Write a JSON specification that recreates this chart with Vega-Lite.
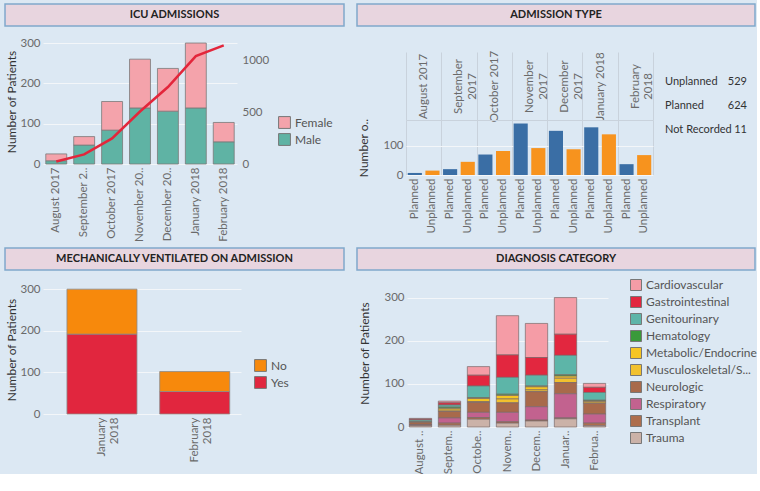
{
  "$schema": "https://vega.github.io/schema/vega-lite/v6.json",
  "background": "#dce8f3",
  "padding": {"left": 4, "top": 3, "right": 0, "bottom": 0},
  "config": {
    "font": "Lato",
    "view": {"stroke": null},
    "axis": {"labelColor": "#6a6a6a", "labelFontSize": 11.5, "titleColor": "#333333", "titleFontSize": 12, "titleFontWeight": "normal", "domain": false, "ticks": false, "gridColor": "#f3f6f9", "gridOpacity": 1, "labelPadding": 3},
    "legend": {"labelColor": "#555555", "labelFontSize": 12, "symbolType": "square", "symbolStrokeColor": "#777777", "symbolStrokeWidth": 1, "symbolOpacity": 1}
  },
  "datasets": {
    "icu": [
      {"month": "August 2017", "sex": "Male", "patients": 8},
      {"month": "August 2017", "sex": "Female", "patients": 17},
      {"month": "September 2017", "sex": "Male", "patients": 47},
      {"month": "September 2017", "sex": "Female", "patients": 21},
      {"month": "October 2017", "sex": "Male", "patients": 84},
      {"month": "October 2017", "sex": "Female", "patients": 71},
      {"month": "November 2017", "sex": "Male", "patients": 139},
      {"month": "November 2017", "sex": "Female", "patients": 121},
      {"month": "December 2017", "sex": "Male", "patients": 131},
      {"month": "December 2017", "sex": "Female", "patients": 106},
      {"month": "January 2018", "sex": "Male", "patients": 139},
      {"month": "January 2018", "sex": "Female", "patients": 161},
      {"month": "February 2018", "sex": "Male", "patients": 55},
      {"month": "February 2018", "sex": "Female", "patients": 48}
    ],
    "icucum": [
      {"month": "August 2017", "cumulative": 25},
      {"month": "September 2017", "cumulative": 93},
      {"month": "October 2017", "cumulative": 248},
      {"month": "November 2017", "cumulative": 508},
      {"month": "December 2017", "cumulative": 745},
      {"month": "January 2018", "cumulative": 1045},
      {"month": "February 2018", "cumulative": 1148}
    ],
    "adm": [
      {"month": "August 2017", "type": "Planned", "key": "August 2017 | Planned", "patients": 7},
      {"month": "August 2017", "type": "Unplanned", "key": "August 2017 | Unplanned", "patients": 15},
      {"month": "September 2017", "type": "Planned", "key": "September 2017 | Planned", "patients": 20},
      {"month": "September 2017", "type": "Unplanned", "key": "September 2017 | Unplanned", "patients": 45},
      {"month": "October 2017", "type": "Planned", "key": "October 2017 | Planned", "patients": 70},
      {"month": "October 2017", "type": "Unplanned", "key": "October 2017 | Unplanned", "patients": 82},
      {"month": "November 2017", "type": "Planned", "key": "November 2017 | Planned", "patients": 176},
      {"month": "November 2017", "type": "Unplanned", "key": "November 2017 | Unplanned", "patients": 92},
      {"month": "December 2017", "type": "Planned", "key": "December 2017 | Planned", "patients": 151},
      {"month": "December 2017", "type": "Unplanned", "key": "December 2017 | Unplanned", "patients": 88},
      {"month": "January 2018", "type": "Planned", "key": "January 2018 | Planned", "patients": 163},
      {"month": "January 2018", "type": "Unplanned", "key": "January 2018 | Unplanned", "patients": 139},
      {"month": "February 2018", "type": "Planned", "key": "February 2018 | Planned", "patients": 37},
      {"month": "February 2018", "type": "Unplanned", "key": "February 2018 | Unplanned", "patients": 68}
    ],
    "totals": [
      {"category": "Unplanned", "total": 529},
      {"category": "Planned", "total": 624},
      {"category": "Not Recorded", "total": 11}
    ],
    "vent": [
      {"month": "January 2018", "ventilated": "Yes", "patients": 192},
      {"month": "January 2018", "ventilated": "No", "patients": 108},
      {"month": "February 2018", "ventilated": "Yes", "patients": 54},
      {"month": "February 2018", "ventilated": "No", "patients": 48}
    ],
    "diag": [
      {"month": "August 2017", "category": "Cardiovascular", "patients": 2},
      {"month": "August 2017", "category": "Gastrointestinal", "patients": 2},
      {"month": "August 2017", "category": "Genitourinary", "patients": 4},
      {"month": "August 2017", "category": "Hematology", "patients": 1},
      {"month": "August 2017", "category": "Neurologic", "patients": 5},
      {"month": "August 2017", "category": "Respiratory", "patients": 1},
      {"month": "August 2017", "category": "Transplant", "patients": 2},
      {"month": "August 2017", "category": "Trauma", "patients": 3},
      {"month": "September 2017", "category": "Cardiovascular", "patients": 4},
      {"month": "September 2017", "category": "Gastrointestinal", "patients": 5},
      {"month": "September 2017", "category": "Genitourinary", "patients": 5},
      {"month": "September 2017", "category": "Hematology", "patients": 3},
      {"month": "September 2017", "category": "Metabolic/Endocrine", "patients": 4},
      {"month": "September 2017", "category": "Musculoskeletal/Skin", "patients": 3},
      {"month": "September 2017", "category": "Neurologic", "patients": 15},
      {"month": "September 2017", "category": "Respiratory", "patients": 12},
      {"month": "September 2017", "category": "Transplant", "patients": 5},
      {"month": "September 2017", "category": "Trauma", "patients": 4},
      {"month": "October 2017", "category": "Cardiovascular", "patients": 20},
      {"month": "October 2017", "category": "Gastrointestinal", "patients": 25},
      {"month": "October 2017", "category": "Genitourinary", "patients": 27},
      {"month": "October 2017", "category": "Hematology", "patients": 2},
      {"month": "October 2017", "category": "Metabolic/Endocrine", "patients": 7},
      {"month": "October 2017", "category": "Musculoskeletal/Skin", "patients": 2},
      {"month": "October 2017", "category": "Neurologic", "patients": 23},
      {"month": "October 2017", "category": "Respiratory", "patients": 12},
      {"month": "October 2017", "category": "Transplant", "patients": 4},
      {"month": "October 2017", "category": "Trauma", "patients": 18},
      {"month": "November 2017", "category": "Cardiovascular", "patients": 91},
      {"month": "November 2017", "category": "Gastrointestinal", "patients": 52},
      {"month": "November 2017", "category": "Genitourinary", "patients": 39},
      {"month": "November 2017", "category": "Hematology", "patients": 3},
      {"month": "November 2017", "category": "Metabolic/Endocrine", "patients": 8},
      {"month": "November 2017", "category": "Musculoskeletal/Skin", "patients": 9},
      {"month": "November 2017", "category": "Neurologic", "patients": 22},
      {"month": "November 2017", "category": "Respiratory", "patients": 22},
      {"month": "November 2017", "category": "Transplant", "patients": 3},
      {"month": "November 2017", "category": "Trauma", "patients": 9},
      {"month": "December 2017", "category": "Cardiovascular", "patients": 79},
      {"month": "December 2017", "category": "Gastrointestinal", "patients": 41},
      {"month": "December 2017", "category": "Genitourinary", "patients": 25},
      {"month": "December 2017", "category": "Hematology", "patients": 2},
      {"month": "December 2017", "category": "Metabolic/Endocrine", "patients": 7},
      {"month": "December 2017", "category": "Musculoskeletal/Skin", "patients": 4},
      {"month": "December 2017", "category": "Neurologic", "patients": 35},
      {"month": "December 2017", "category": "Respiratory", "patients": 31},
      {"month": "December 2017", "category": "Transplant", "patients": 2},
      {"month": "December 2017", "category": "Trauma", "patients": 14},
      {"month": "January 2018", "category": "Cardiovascular", "patients": 85},
      {"month": "January 2018", "category": "Gastrointestinal", "patients": 49},
      {"month": "January 2018", "category": "Genitourinary", "patients": 45},
      {"month": "January 2018", "category": "Hematology", "patients": 3},
      {"month": "January 2018", "category": "Metabolic/Endocrine", "patients": 5},
      {"month": "January 2018", "category": "Musculoskeletal/Skin", "patients": 10},
      {"month": "January 2018", "category": "Neurologic", "patients": 26},
      {"month": "January 2018", "category": "Respiratory", "patients": 56},
      {"month": "January 2018", "category": "Transplant", "patients": 2},
      {"month": "January 2018", "category": "Trauma", "patients": 19},
      {"month": "February 2018", "category": "Cardiovascular", "patients": 9},
      {"month": "February 2018", "category": "Gastrointestinal", "patients": 12},
      {"month": "February 2018", "category": "Genitourinary", "patients": 18},
      {"month": "February 2018", "category": "Hematology", "patients": 2},
      {"month": "February 2018", "category": "Metabolic/Endocrine", "patients": 2},
      {"month": "February 2018", "category": "Musculoskeletal/Skin", "patients": 3},
      {"month": "February 2018", "category": "Neurologic", "patients": 25},
      {"month": "February 2018", "category": "Respiratory", "patients": 21},
      {"month": "February 2018", "category": "Transplant", "patients": 6},
      {"month": "February 2018", "category": "Trauma", "patients": 3}
    ]
  },
  "spacing": 5,
  "resolve": {"scale": {"color": "independent"}, "legend": {"color": "independent"}},
  "vconcat": [
    {
      "spacing": 11,
      "resolve": {"scale": {"color": "independent"}, "legend": {"color": "independent"}},
      "hconcat": [
        {
          "spacing": 10,
          "vconcat": [
            {
              "width": 301, "height": 22,
              "data": {"values": [{"title": "ICU ADMISSIONS"}]},
              "layer": [
                {"mark": {"type": "rect", "fill": "#e8d5df", "stroke": "#80a8cc", "strokeWidth": 1.5},
                 "encoding": {"x": {"datum": -0.1262, "type": "quantitative", "scale": {"domain": [0, 1], "nice": false, "zero": false}, "axis": null}, "x2": {"datum": 1}}},
                {"mark": {"type": "text", "fontWeight": "bold", "fontSize": 11, "color": "#222222"},
                 "encoding": {"x": {"datum": 0.4369, "type": "quantitative"}, "text": {"field": "title", "type": "nominal"}}}
              ]
            },
            {
              "width": 194, "height": 125,
              "layer": [
                {
                  "data": {"name": "icu"},
                  "mark": {"type": "bar", "stroke": "#7a7a7a", "strokeWidth": 0.8},
                  "encoding": {
                    "x": {"field": "month", "type": "ordinal", "sort": ["August 2017", "September 2017", "October 2017", "November 2017", "December 2017", "January 2018", "February 2018"], "scale": {"paddingInner": 0.25, "paddingOuter": 0.1},
                      "axis": {"title": null, "labelAngle": -90, "labelExpr": "datum.label == 'September 2017' ? 'September 2..' : datum.label == 'November 2017' ? 'November 20..' : datum.label == 'December 2017' ? 'December 20..' : datum.label"}},
                    "y": {"field": "patients", "type": "quantitative", "stack": "zero", "scale": {"domain": [0, 310], "nice": false},
                      "axis": {"title": "Number of Patients", "values": [0, 100, 200, 300], "grid": true, "titlePadding": 1}},
                    "color": {"field": "sex", "type": "nominal", "scale": {"domain": ["Female", "Male"], "range": ["#f4a3ab", "#5fb3a4"]},
                      "legend": {"title": null, "orient": "none", "legendX": 235, "legendY": 112, "symbolSize": 140, "rowPadding": 0}},
                    "order": {"field": "sex", "sort": "descending"}
                  }
                },
                {
                  "data": {"name": "icucum"},
                  "mark": {"type": "line", "color": "#e3263b", "strokeWidth": 2.5},
                  "encoding": {
                    "x": {"field": "month", "type": "ordinal", "sort": ["August 2017", "September 2017", "October 2017", "November 2017", "December 2017", "January 2018", "February 2018"]},
                    "y": {"field": "cumulative", "type": "quantitative", "scale": {"domain": [0, 1210], "nice": false},
                      "axis": {"orient": "right", "title": null, "values": [0, 500, 1000], "format": "d", "grid": false, "labelPadding": 5}}
                  }
                }
              ],
              "resolve": {"scale": {"y": "independent"}}
            }
          ]
        },
        {
          "spacing": 23,
          "vconcat": [
            {
              "width": 349, "height": 22,
              "data": {"values": [{"title": "ADMISSION TYPE"}]},
              "layer": [
                {"mark": {"type": "rect", "fill": "#e8d5df", "stroke": "#80a8cc", "strokeWidth": 1.5},
                 "encoding": {"x": {"datum": -0.1404, "type": "quantitative", "scale": {"domain": [0, 1], "nice": false, "zero": false}, "axis": null}, "x2": {"datum": 1}}},
                {"mark": {"type": "text", "fontWeight": "bold", "fontSize": 11, "color": "#222222"},
                 "encoding": {"x": {"datum": 0.4298, "type": "quantitative"}, "text": {"field": "title", "type": "nominal"}}}
              ]
            },
            {
              "spacing": 10,
              "hconcat": [
                {
                  "width": 247, "height": 55,
                  "data": {"name": "adm"},
                  "layer": [
                    {
                      "mark": {"type": "point", "opacity": 0},
                      "encoding": {
                        "x": {"field": "month", "type": "ordinal", "sort": ["August 2017", "September 2017", "October 2017", "November 2017", "December 2017", "January 2018", "February 2018"], "scale": {"paddingInner": 0, "paddingOuter": 0},
                          "axis": {"orient": "top", "title": null, "labelAngle": -90, "labelAlign": "center", "labelBaseline": "middle", "labelPadding": -34,
                            "labelExpr": "length(datum.label) > 12 ? split(datum.label, ' ') : datum.label",
                            "ticks": true, "tickBand": "extent", "tickSize": 68, "tickColor": "#c9d2dc", "grid": true, "gridColor": "#c9d2dc", "domain": true, "domainColor": "#c9d2dc"}},
                        "y": {"field": "patients", "type": "quantitative", "scale": {"domain": [0, 188], "nice": false},
                          "axis": {"title": "Number o..", "values": [0, 100], "grid": true, "titlePadding": 12}}
                      }
                    },
                    {
                      "mark": {"type": "bar"},
                      "encoding": {
                        "x": {"field": "key", "type": "ordinal",
                          "sort": ["August 2017 | Planned", "August 2017 | Unplanned", "September 2017 | Planned", "September 2017 | Unplanned", "October 2017 | Planned", "October 2017 | Unplanned", "November 2017 | Planned", "November 2017 | Unplanned", "December 2017 | Planned", "December 2017 | Unplanned", "January 2018 | Planned", "January 2018 | Unplanned", "February 2018 | Planned", "February 2018 | Unplanned"],
                          "scale": {"paddingInner": 0.2, "paddingOuter": 0.1},
                          "axis": {"orient": "bottom", "title": null, "labelAngle": -90, "labelExpr": "split(datum.label, ' | ')[1]"}},
                        "y": {"field": "patients", "type": "quantitative", "scale": {"domain": [0, 188], "nice": false},
                          "axis": {"title": "Number o..", "values": [0, 100], "grid": true, "titlePadding": 12}},
                        "color": {"field": "type", "type": "nominal", "scale": {"domain": ["Planned", "Unplanned"], "range": ["#3a6ea5", "#f7931e"]}, "legend": null}
                      }
                    }
                  ],
                  "resolve": {"scale": {"x": "independent"}}
                },
                {
                  "width": 82, "height": 20,
                  "data": {"name": "totals"},
                  "encoding": {
                    "y": {"field": "category", "type": "nominal", "sort": ["Unplanned", "Planned", "Not Recorded"], "scale": {"type": "point", "padding": 0, "range": [-38, 10]}, "axis": null}
                  },
                  "layer": [
                    {
                      "mark": {"type": "text", "align": "left", "fontSize": 11, "color": "#333333"},
                      "encoding": {
                        "x": {"datum": 0, "type": "quantitative", "scale": {"domain": [0, 1]}, "axis": null},
                        "text": {"field": "category", "type": "nominal"}
                      }
                    },
                    {
                      "mark": {"type": "text", "align": "right", "fontSize": 11, "color": "#333333"},
                      "encoding": {
                        "x": {"datum": 1, "type": "quantitative", "scale": {"domain": [0, 1]}, "axis": null},
                        "text": {"field": "total", "type": "quantitative"}
                      }
                    }
                  ]
                }
              ]
            }
          ]
        }
      ]
    },
    {
      "spacing": 11,
      "resolve": {"scale": {"color": "independent"}, "legend": {"color": "independent"}},
      "hconcat": [
        {
          "spacing": 12,
          "vconcat": [
            {
              "width": 301, "height": 22,
              "data": {"values": [{"title": "MECHANICALLY VENTILATED ON ADMISSION"}]},
              "layer": [
                {"mark": {"type": "rect", "fill": "#e8d5df", "stroke": "#80a8cc", "strokeWidth": 1.5},
                 "encoding": {"x": {"datum": -0.1262, "type": "quantitative", "scale": {"domain": [0, 1], "nice": false, "zero": false}, "axis": null}, "x2": {"datum": 1}}},
                {"mark": {"type": "text", "fontWeight": "bold", "fontSize": 11, "color": "#222222"},
                 "encoding": {"x": {"datum": 0.4369, "type": "quantitative"}, "text": {"field": "title", "type": "nominal"}}}
              ]
            },
            {
              "width": 198, "height": 129,
              "data": {"name": "vent"},
              "mark": {"type": "bar", "stroke": "#8a8a8a", "strokeWidth": 0.8},
              "encoding": {
                "x": {"field": "month", "type": "ordinal", "sort": ["January 2018", "February 2018"], "scale": {"paddingInner": 0.245, "paddingOuter": 0.19, "align": 0.68},
                  "axis": {"title": null, "labelAngle": -90, "labelExpr": "split(datum.label, ' ')"}},
                "y": {"field": "patients", "type": "quantitative", "stack": "zero", "scale": {"domain": [0, 310], "nice": false},
                  "axis": {"title": "Number of Patients", "values": [0, 100, 200, 300], "grid": true, "titlePadding": 1}},
                "color": {"field": "ventilated", "type": "nominal", "scale": {"domain": ["No", "Yes"], "range": ["#f7890c", "#e1263e"]},
                  "legend": {"title": null, "orient": "none", "legendX": 211, "legendY": 111, "symbolSize": 140, "rowPadding": 0}},
                "order": {"field": "ventilated", "sort": "descending"}
              }
            }
          ]
        },
        {
          "spacing": 8,
          "resolve": {"legend": {"color": "independent"}},
          "vconcat": [
            {
              "width": 348, "height": 22,
              "data": {"values": [{"title": "DIAGNOSIS CATEGORY"}]},
              "layer": [
                {"mark": {"type": "rect", "fill": "#e8d5df", "stroke": "#80a8cc", "strokeWidth": 1.5},
                 "encoding": {"x": {"datum": -0.1437, "type": "quantitative", "scale": {"domain": [0, 1], "nice": false, "zero": false}, "axis": null}, "x2": {"datum": 1}}},
                {"mark": {"type": "text", "fontWeight": "bold", "fontSize": 11, "color": "#222222"},
                 "encoding": {"x": {"datum": 0.4282, "type": "quantitative"}, "text": {"field": "title", "type": "nominal"}}}
              ]
            },
            {
              "width": 201, "height": 148,
              "data": {"name": "diag"},
              "mark": {"type": "bar", "stroke": "#7a6a6a", "strokeWidth": 0.7},
              "encoding": {
                "x": {"field": "month", "type": "ordinal", "sort": ["August 2017", "September 2017", "October 2017", "November 2017", "December 2017", "January 2018", "February 2018"], "scale": {"paddingInner": 0.23, "paddingOuter": 0.08},
                  "axis": {"title": null, "labelAngle": -90, "labelExpr": "datum.label == 'August 2017' ? 'August ..' : datum.label == 'September 2017' ? 'Septem..' : datum.label == 'October 2017' ? 'Octobe..' : datum.label == 'November 2017' ? 'Novem..' : datum.label == 'December 2017' ? 'Decem..' : datum.label == 'January 2018' ? 'Januar..' : 'Februa..'"}},
                "y": {"field": "patients", "type": "quantitative", "stack": "zero", "scale": {"domain": [0, 343], "nice": false},
                  "axis": {"title": "Number of Patients", "values": [0, 100, 200, 300], "grid": true, "titlePadding": 12}},
                "color": {"field": "category", "type": "nominal",
                  "scale": {"domain": ["Cardiovascular", "Gastrointestinal", "Genitourinary", "Hematology", "Metabolic/Endocrine", "Musculoskeletal/Skin", "Neurologic", "Respiratory", "Transplant", "Trauma"],
                    "range": ["#f59ca6", "#e2273f", "#5db5a8", "#3a9a3a", "#f6c523", "#f2c12e", "#a86a4b", "#c2628f", "#ad6e4d", "#cbb2a8"]},
                  "legend": {"title": null, "orient": "right", "offset": 22, "symbolSize": 121, "rowPadding": 1, "labelLimit": 200,
                    "labelExpr": "datum.label == 'Musculoskeletal/Skin' ? 'Musculoskeletal/S...' : datum.label"}},
                "order": {"field": "category", "sort": "descending"}
              }
            }
          ]
        }
      ]
    }
  ]
}
